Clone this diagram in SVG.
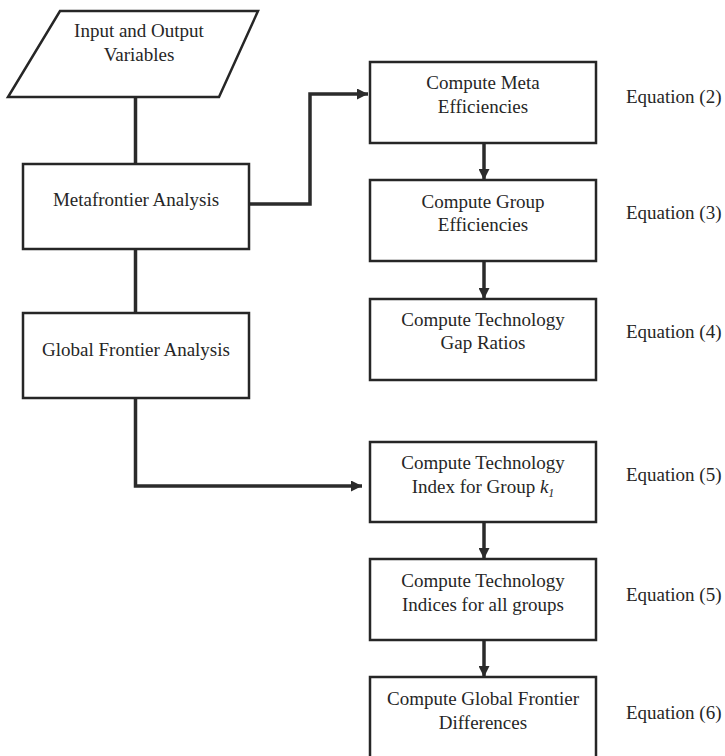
<svg xmlns="http://www.w3.org/2000/svg" width="725" height="756" viewBox="0 0 725 756">
<defs>
<style>
.box{fill:#fff;stroke:#262626;stroke-width:2.5}
.t{font-family:"Liberation Serif","Times New Roman",serif;font-size:19px;fill:#262626;text-anchor:middle}
.eq{font-family:"Liberation Serif","Times New Roman",serif;font-size:19px;fill:#262626}
.c{fill:none;stroke:#2b2b2b;stroke-width:3.5}
</style>
<marker id="ah" viewBox="0 0 10 10" refX="10" refY="5" markerWidth="11" markerHeight="11" markerUnits="userSpaceOnUse" orient="auto">
<path d="M0,0 L10,5 L0,10 z" fill="#2b2b2b"/>
</marker>
</defs>
<rect width="725" height="756" fill="#fff"/>
<g id="connectors">
<path class="c" d="M135.5,97 V164"/>
<path class="c" d="M249,204 H310 V94 H368" marker-end="url(#ah)"/>
<path class="c" d="M135.5,249 V313"/>
<path class="c" d="M135.5,398 V486 H362" marker-end="url(#ah)"/>
<path class="c" d="M484,143 V180" marker-end="url(#ah)"/>
<path class="c" d="M484,261 V299" marker-end="url(#ah)"/>
<path class="c" d="M484,522 V559" marker-end="url(#ah)"/>
<path class="c" d="M484,640 V677" marker-end="url(#ah)"/>
</g>
<g id="input">
<polygon class="box" points="60,11 258,11 219,97 8,97"/>
<text class="t" x="139" y="37">Input and Output</text>
<text class="t" x="139" y="61">Variables</text>
</g>
<g id="meta">
<rect class="box" x="23" y="164" width="226" height="85"/>
<text class="t" x="136" y="206">Metafrontier Analysis</text>
</g>
<g id="global">
<rect class="box" x="23" y="313" width="226" height="85"/>
<text class="t" x="136" y="356">Global Frontier Analysis</text>
</g>
<g id="metaeff">
<rect class="box" x="370" y="62" width="226" height="81"/>
<text class="t" x="483" y="89">Compute Meta</text>
<text class="t" x="483" y="113">Efficiencies</text>
<text class="eq" x="626" y="103">Equation (2)</text>
</g>
<g id="groupeff">
<rect class="box" x="370" y="180" width="226" height="81"/>
<text class="t" x="483" y="208">Compute Group</text>
<text class="t" x="483" y="231">Efficiencies</text>
<text class="eq" x="626" y="219">Equation (3)</text>
</g>
<g id="gap">
<rect class="box" x="370" y="299" width="226" height="81"/>
<text class="t" x="483" y="326">Compute Technology</text>
<text class="t" x="483" y="349">Gap Ratios</text>
<text class="eq" x="626" y="338">Equation (4)</text>
</g>
<g id="index">
<rect class="box" x="370" y="442" width="226" height="80"/>
<text class="t" x="483" y="469">Compute Technology</text>
<text class="t" x="483" y="493">Index for Group <tspan font-style="italic">k</tspan><tspan font-style="italic" font-size="12" dy="4">1</tspan></text>
<text class="eq" x="626" y="481">Equation (5)</text>
</g>
<g id="indices">
<rect class="box" x="370" y="559" width="226" height="81"/>
<text class="t" x="483" y="587">Compute Technology</text>
<text class="t" x="483" y="611">Indices for all groups</text>
<text class="eq" x="626" y="601">Equation (5)</text>
</g>
<g id="diff">
<rect class="box" x="370" y="677" width="226" height="100"/>
<text class="t" x="483" y="705">Compute Global Frontier</text>
<text class="t" x="483" y="729">Differences</text>
<text class="eq" x="626" y="719">Equation (6)</text>
</g>
</svg>
